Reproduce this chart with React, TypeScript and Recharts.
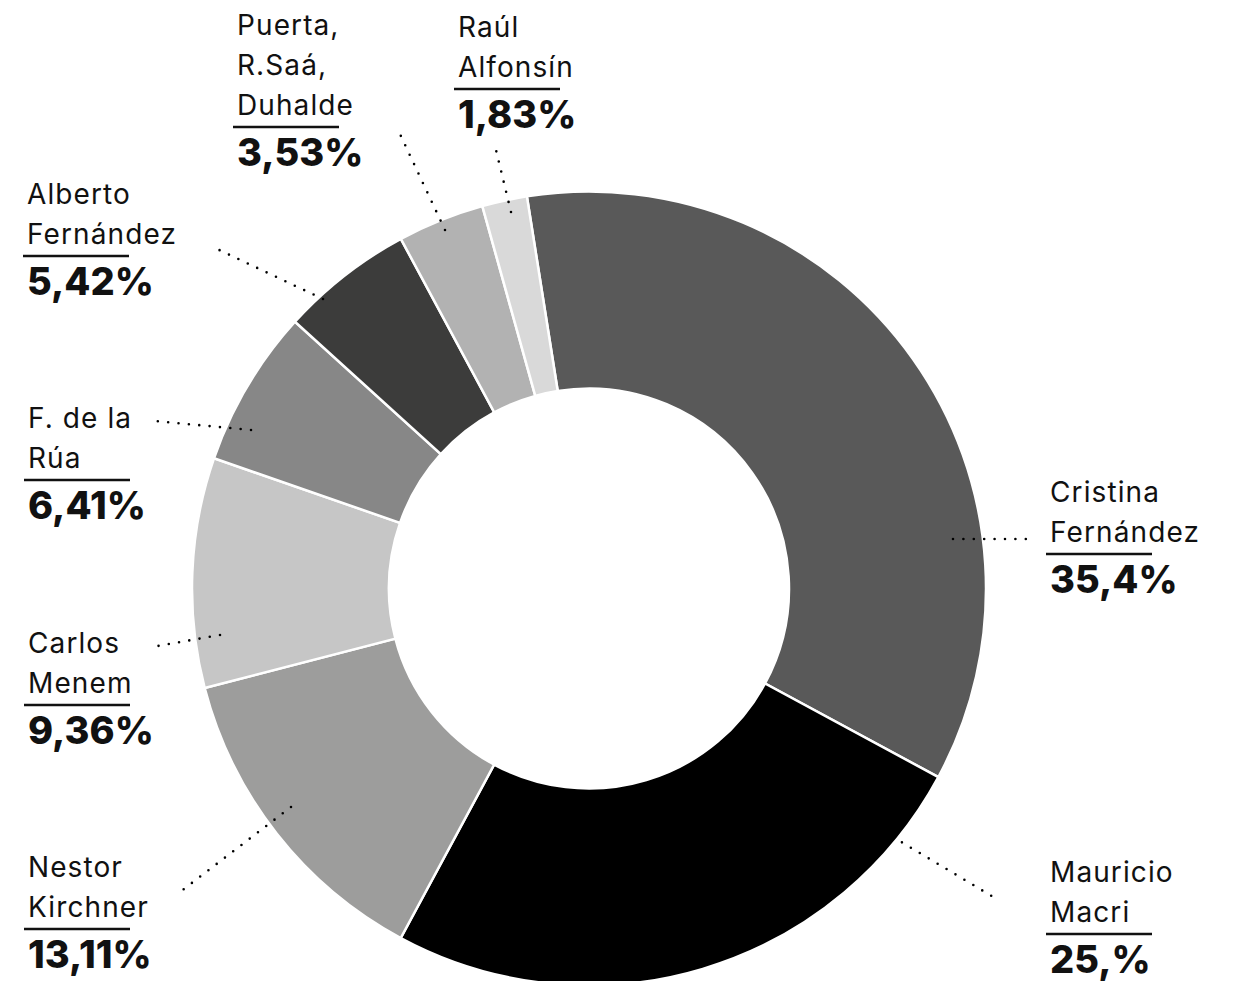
import { PieChart, Pie, Cell } from 'recharts';

const candidates = [
    'Cristina Fernández',
    'Mauricio Macri',
    'Nestor Kirchner',
    'Carlos Menem',
    'F. de la Rúa',
    'Alberto Fernández',
    'Puerta, R.Saá, Duhalde',
    'Raúl Alfonsín'
];

const shares = [35.4, 25, 13.11, 9.36, 6.41, 5.42, 3.53, 1.83];

const shareLabels = ['35,4%', '25,%', '13,11%', '9,36%', '6,41%', '5,42%', '3,53%', '1,83%'];

const nameLines = [
    ['Cristina', 'Fernández'],
    ['Mauricio', 'Macri'],
    ['Nestor', 'Kirchner'],
    ['Carlos', 'Menem'],
    ['F. de la', 'Rúa'],
    ['Alberto', 'Fernández'],
    ['Puerta,', 'R.Saá,', 'Duhalde'],
    ['Raúl', 'Alfonsín']
];

const sliceColors = ['#595959', '#000000', '#9d9d9c', '#c6c6c6', '#878787', '#3c3c3b', '#b2b2b2', '#d9d9d9'];

// label anchor (text left, first baseline) and leader line ends
const labelLayout = [
    { x: 1050, y: 502, line: [953, 539, 1026, 539] },
    { x: 1050, y: 882, line: [893, 837, 995, 898] },
    { x: 28, y: 877, line: [291, 807, 180, 892] },
    { x: 28, y: 653, line: [220, 635, 152, 647] },
    { x: 28, y: 428, line: [251, 430, 155, 421] },
    { x: 27, y: 204, line: [323, 299, 215, 248] },
    { x: 237, y: 35, line: [445, 230, 399, 132] },
    { x: 458, y: 37, line: [511, 212, 496, 150] }
];

const data = candidates.map((name, i) => ({ name, value: shares[i] }));

const FONT = 'Inter, "Noto Sans", sans-serif';

const renderLabel = (props: any) => {
    const i = props.index;
    const l = labelLayout[i];
    const lines = nameLines[i];
    const lastBase = l.y + (lines.length - 1) * 40;
    return (
        <g key={'lbl-' + i}>
            <line
                x1={l.line[0]}
                y1={l.line[1]}
                x2={l.line[2]}
                y2={l.line[3]}
                stroke="#000"
                strokeWidth={2.6}
                strokeLinecap="round"
                strokeDasharray="0 10.4"
            />
            {lines.map((t, k) => (
                <text
                    key={k}
                    x={l.x}
                    y={l.y + k * 40}
                    fontFamily={FONT}
                    fontSize={28}
                    letterSpacing={1.1}
                    fill="#111"
                >
                    {t}
                </text>
            ))}
            <line x1={l.x - 4} y1={lastBase + 12} x2={l.x + 102} y2={lastBase + 12} stroke="#111" strokeWidth={2.5} />
            <text x={l.x} y={lastBase + 51} fontFamily={FONT} fontSize={38} fontWeight={800} fill="#111">
                {shareLabels[i]}
            </text>
        </g>
    );
};

export default function App() {
    return (
        <div style={{ position: 'absolute', left: 0, top: 0, background: '#fff' }}>
            <PieChart width={1239} height={981}>
                <Pie
                    data={data}
                    dataKey="value"
                    nameKey="name"
                    cx={584}
                    cy={583.5}
                    innerRadius={200}
                    outerRadius={397}
                    startAngle={99}
                    endAngle={-261}
                    stroke="#fff"
                    strokeWidth={2.5}
                    label={renderLabel}
                    labelLine={false}
                    isAnimationActive={false}
                >
                    {data.map((d, i) => (
                        <Cell key={d.name} fill={sliceColors[i]} />
                    ))}
                </Pie>
            </PieChart>
        </div>
    );
}
